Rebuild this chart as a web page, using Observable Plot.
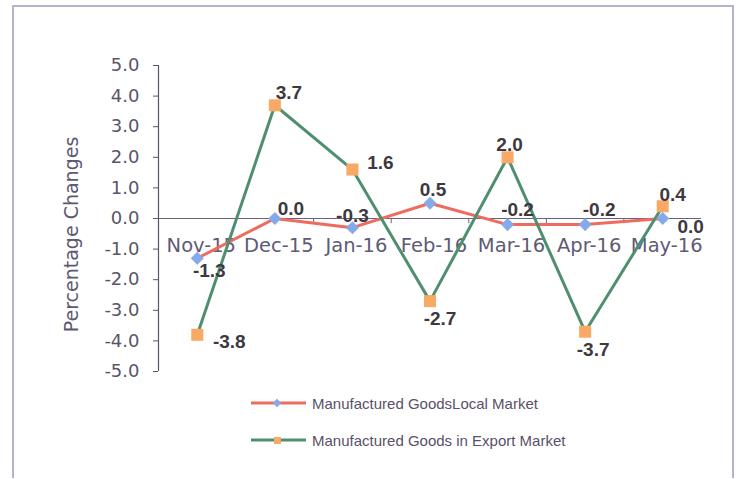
<!DOCTYPE html>
<html>
<head>
<meta charset="utf-8">
<script src="https://cdn.jsdelivr.net/npm/d3@7"></script>
<script src="https://cdn.jsdelivr.net/npm/@observablehq/plot@0.6"></script>
<style>
  body { margin: 0; background: #fff; }
  #wrap { position: relative; width: 738px; height: 479px; overflow: hidden; background: #fff; }
  #border { position: absolute; left: 12px; top: 5px; width: 722px; height: 473px; box-sizing: border-box; border: 2px solid #b9b1c9; border-bottom: none; pointer-events: none; }
  #chart { position: absolute; left: 0; top: 0; }
  .leg { position: absolute; left: 250px; height: 20px; display: flex; align-items: center; font-family: "Liberation Sans", Arial, sans-serif; font-size: 15px; color: #5a5068; white-space: nowrap; }
  .leg svg { margin-right: 5px; }
</style>
</head>
<body>
<div id="wrap">
  <div id="chart"></div>
  <div id="border"></div>
  <div class="leg" id="leg1" style="top:393px"></div>
  <div class="leg" id="leg2" style="top:430px"></div>
</div>
<script>
const categories = ["Nov-15", "Dec-15", "Jan-16", "Feb-16", "Mar-16", "Apr-16", "May-16"];
const localMarket = [-1.3, 0.0, -0.3, 0.5, -0.2, -0.2, 0.0];
const exportMarket = [-3.8, 3.7, 1.6, -2.7, 2.0, -3.7, 0.4];
const yTicks = [-5, -4, -3, -2, -1, 0, 1, 2, 3, 4, 5];
const seriesNames = ["Manufactured GoodsLocal Market", "Manufactured Goods in Export Market"];
const yTitle = "Percentage Changes";

// label placement offsets (style, in pixels)
const localOffsets = [[12, 13], [16, -10], [0, -12], [3, -13], [10, -15], [14, -15], [28, 8]];
const exportOffsets = [[32, 7], [14, -12], [28, -7], [10, 18], [2, -12], [8, 18], [10, -11]];

const localColor = "#ee6b5f", localMarker = "#86a9ea";
const exportColor = "#4f8f6f", exportMarker = "#f7a965";

const local = categories.map((c, i) => ({i, c, v: localMarket[i]}));
const exp = categories.map((c, i) => ({i, c, v: exportMarket[i]}));
const bounds = categories.slice(1).map((c, i) => i + 0.5);

function labelMarks(data, offsets) {
  return data.map((d, k) => Plot.text([d], {
    x: "i", y: "v", text: d => d.v.toFixed(1),
    dx: offsets[k][0], dy: offsets[k][1],
    fontFamily: "Liberation Sans, Arial, sans-serif", fontWeight: "bold", fontSize: 19,
    fill: "#3e3840"
  }));
}

const plot = Plot.plot({
  width: 738, height: 385,
  marginLeft: 158, marginRight: 37, marginTop: 65, marginBottom: 14,
  style: {fontFamily: "DejaVu Sans, sans-serif", background: "transparent"},
  x: {type: "linear", domain: [-0.5, categories.length - 0.5], axis: null, label: null},
  y: {domain: [-5, 5], axis: null, label: null},
  marks: [
    Plot.axisY(yTicks, {label: null, tickSize: 5, tickPadding: 14, tickFormat: d => d.toFixed(1), fontSize: 18, color: "#5a5468", stroke: "#5a5468", fill: "#5a5468"}),
    Plot.ruleX([-0.5], {y1: -5, y2: 5, stroke: "#5a5468", strokeWidth: 1.2}),
    Plot.text([yTitle], {x: () => -0.5, y: () => 0, text: d => d, rotate: -90, textAnchor: "middle", lineAnchor: "middle", dx: -87, dy: 16, fontSize: 19, fill: "#5e5870"}),
    Plot.ruleY([0], {stroke: "#6a607a", strokeWidth: 1.2}),
    Plot.ruleX(bounds, {x: d => d, y1: 0, y2: -0.17, stroke: "#6a607a"}),
    Plot.text(categories, {x: (d, i) => i, y: () => 0, text: d => d, dx: 4, dy: 27, fontSize: 19.5, fill: "#605a74"}),
    Plot.line(local, {x: "i", y: "v", stroke: localColor, strokeWidth: 3}),
    Plot.line(exp, {x: "i", y: "v", stroke: exportColor, strokeWidth: 3}),
    Plot.dot(local, {x: "i", y: "v", symbol: "diamond2", r: 5.9, fill: localMarker, stroke: "none"}),
    Plot.dot(exp, {x: "i", y: "v", symbol: "square", r: 6.8, fill: exportMarker, stroke: "none"}),
    ...labelMarks(local, localOffsets),
    ...labelMarks(exp, exportOffsets)
  ]
});
document.getElementById("chart").appendChild(plot);

function swatch(line, marker, shape) {
  const m = shape === "diamond"
    ? `<rect x="24" y="6" width="6" height="6" transform="rotate(45 27 9)" fill="${marker}"/>`
    : `<rect x="24" y="6" width="7" height="7" fill="${marker}"/>`;
  return `<svg width="57" height="18"><line x1="1" y1="9" x2="56" y2="9" stroke="${line}" stroke-width="3"/>${m}</svg>`;
}
document.getElementById("leg1").innerHTML = swatch(localColor, localMarker, "diamond") + `<span>${seriesNames[0]}</span>`;
document.getElementById("leg2").innerHTML = swatch(exportColor, exportMarker, "square") + `<span>${seriesNames[1]}</span>`;
</script>
</body>
</html>
